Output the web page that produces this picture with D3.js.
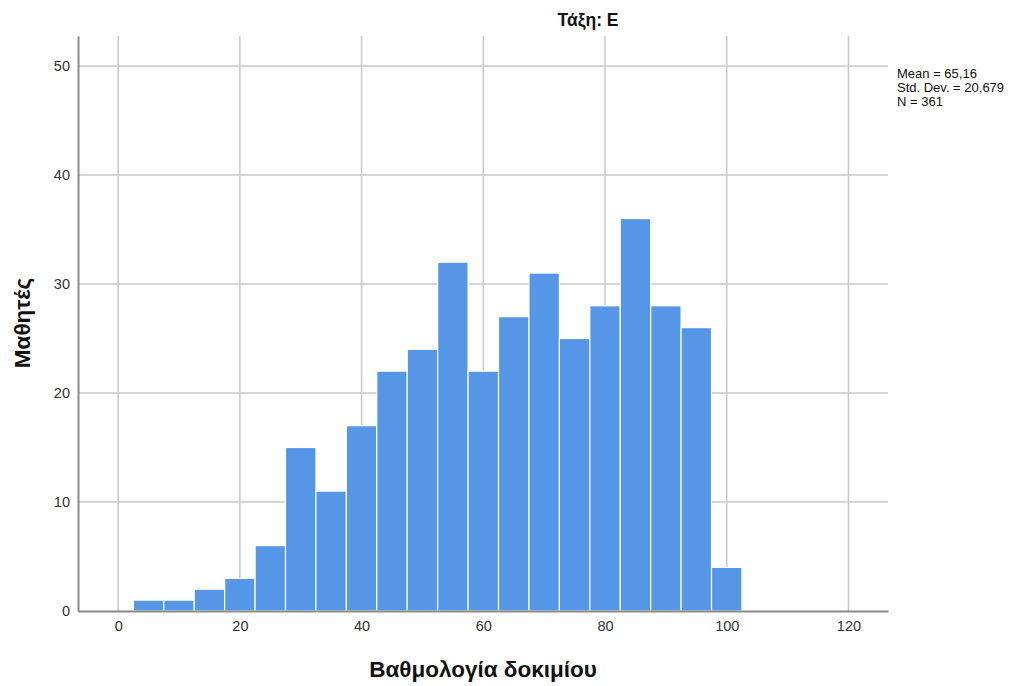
<!DOCTYPE html>
<html><head><meta charset="utf-8">
<script src="https://cdn.jsdelivr.net/npm/d3@7"></script>
<style>body{margin:0;background:#fff;} svg{display:block;font-family:Arial,"Liberation Sans",sans-serif;}</style>
</head><body>
<script>
const binStarts = [2.5,7.5,12.5,17.5,22.5,27.5,32.5,37.5,42.5,47.5,52.5,57.5,62.5,67.5,72.5,77.5,82.5,87.5,92.5,97.5];
const binWidth = 5;
const counts = [1,1,2,3,6,15,11,17,22,24,32,22,27,31,25,28,36,28,26,4];
const xTicks = [0,20,40,60,80,100,120];
const yTicks = [0,10,20,30,40,50];
const title = "Τάξη: Ε";
const xTitle = "Βαθμολογία δοκιμίου";
const yTitle = "Μαθητές";
const stats = ["Mean = 65,16","Std. Dev. = 20,679","N = 361"];

const W=1029,H=686;
const L=78,R=888,T=36,B=611;
const svg=d3.select("body").append("svg").attr("width",W).attr("height",H);
const x=d3.scaleLinear().domain([-6.6,126.5]).range([L,R]);
const y=d3.scaleLinear().domain([0,52.75]).range([B,T]);

// grid
svg.append("g").selectAll("line").data(xTicks).join("line")
  .attr("x1",d=>x(d)).attr("x2",d=>x(d)).attr("y1",T).attr("y2",B)
  .attr("stroke","#c8c8c8").attr("stroke-width",1.5);
svg.append("g").selectAll("line").data(yTicks.filter(d=>d>0)).join("line")
  .attr("x1",L).attr("x2",R).attr("y1",d=>y(d)).attr("y2",d=>y(d))
  .attr("stroke","#c8c8c8").attr("stroke-width",1.5);

// bars
svg.append("g").selectAll("rect").data(counts).join("rect")
  .attr("x",(d,i)=>x(binStarts[i]))
  .attr("width",(d,i)=>x(binStarts[i]+binWidth)-x(binStarts[i]))
  .attr("y",d=>y(d)).attr("height",d=>y(0)-y(d))
  .attr("fill","#5596e6").attr("stroke","#ffffff").attr("stroke-width",1.2);

// axes
const xa=svg.append("g").attr("transform",`translate(0,${B})`)
  .call(d3.axisBottom(x).tickValues(xTicks).tickSize(0).tickPadding(10).tickFormat(d3.format("d")));
xa.select(".domain").attr("stroke","#8a8a8a").attr("stroke-width",2);
xa.selectAll("text").attr("font-size",14.5).attr("fill","#333").attr("font-family","Arial,'Liberation Sans',sans-serif");
const ya=svg.append("g").attr("transform",`translate(${L},0)`)
  .call(d3.axisLeft(y).tickValues(yTicks).tickSize(0).tickPadding(8).tickFormat(d3.format("d")));
ya.select(".domain").attr("stroke","#8a8a8a").attr("stroke-width",2);
ya.selectAll("text").attr("font-size",14.5).attr("fill","#333").attr("font-family","Arial,'Liberation Sans',sans-serif");

// titles
svg.append("text").attr("x",588).attr("y",26).attr("text-anchor","middle")
  .attr("font-size",17.5).attr("font-weight","bold").attr("fill","#111").text(title);
svg.append("text").attr("x",483).attr("y",677).attr("text-anchor","middle")
  .attr("font-size",22.5).attr("font-weight","bold").attr("fill","#111").text(xTitle);
svg.append("text").attr("transform",`translate(30,323) rotate(-90)`).attr("text-anchor","middle")
  .attr("font-size",22.5).attr("font-weight","bold").attr("fill","#111").text(yTitle);
svg.append("g").selectAll("text").data(stats).join("text")
  .attr("x",897).attr("y",(d,i)=>78+i*14).attr("font-size",13).attr("fill","#111").text(d=>d);
</script>
</body></html>
